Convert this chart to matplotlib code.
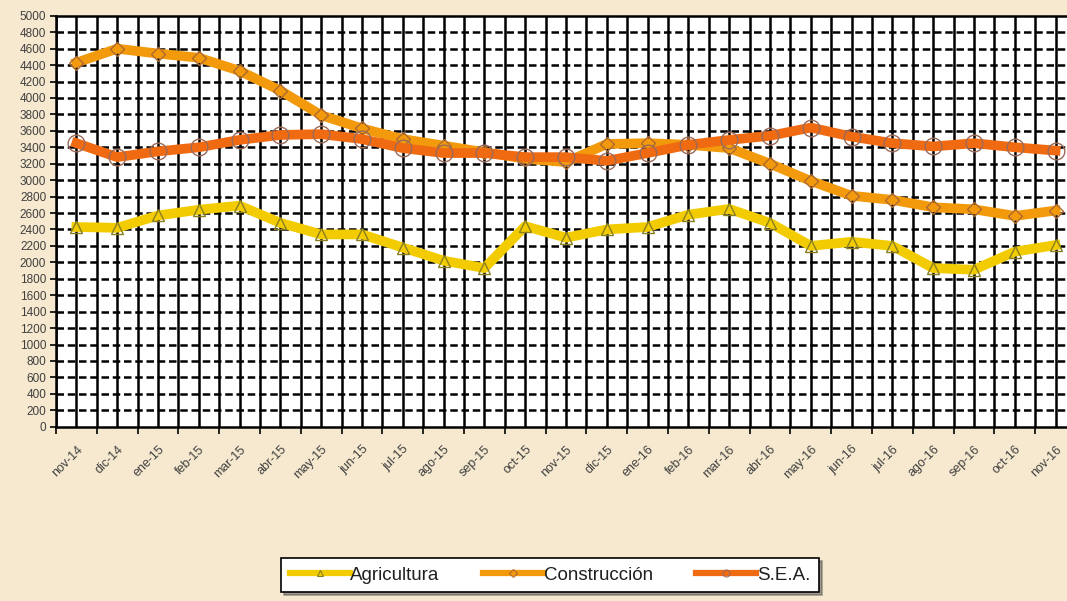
import numpy as np
import matplotlib.pyplot as plt
from matplotlib.lines import Line2D
from matplotlib.ticker import MultipleLocator

plt.rcParams['font.family'] = ['Liberation Sans', 'DejaVu Sans']

months = ['nov-14', 'dic-14', 'ene-15', 'feb-15', 'mar-15', 'abr-15', 'may-15',
          'jun-15', 'jul-15', 'ago-15', 'sep-15', 'oct-15', 'nov-15', 'dic-15',
          'ene-16', 'feb-16', 'mar-16', 'abr-16', 'may-16', 'jun-16', 'jul-16',
          'ago-16', 'sep-16', 'oct-16', 'nov-16']

agricultura = [2430, 2420, 2570, 2640, 2690, 2480, 2340, 2340, 2180, 2020, 1930,
               2440, 2300, 2400, 2430, 2580, 2650, 2480, 2200, 2250, 2200, 1930,
               1910, 2130, 2210]
construccion = [4430, 4600, 4540, 4490, 4330, 4090, 3790, 3630, 3500, 3420, 3340,
                3260, 3220, 3440, 3450, 3430, 3390, 3200, 2990, 2810, 2760, 2670,
                2645, 2565, 2630]
sea = [3450, 3280, 3350, 3400, 3490, 3550, 3560, 3500, 3390, 3330, 3330,
       3280, 3280, 3235, 3330, 3430, 3490, 3540, 3640, 3530, 3450, 3410,
       3450, 3400, 3360]

x = np.arange(len(months))

fig = plt.figure(figsize=(10.67, 6.01), dpi=100)
fig.patch.set_facecolor('#F6E9CF')
ax = fig.add_axes([56 / 1067, 1 - 426.7 / 601, 1020 / 1067, 410.9 / 601])
ax.set_facecolor('white')

ax.plot(x, agricultura, color='#F2CC00', lw=7, marker='^', ms=9,
        mfc='none', mec='#8A7F20', mew=1.0, zorder=3)
ax.plot(x, construccion, color='#F29A0C', lw=7, marker='D', ms=7,
        mfc='none', mec='#B06A30', mew=1.0, zorder=4)
ax.plot(x, sea, color='#F06A12', lw=7, marker='o', ms=12,
        mfc='none', mec='#9A6A5A', mew=1.0, zorder=5)

ax.set_xlim(-0.5, len(months) - 0.5)
ax.set_ylim(0, 5000)

ax.yaxis.set_major_locator(MultipleLocator(200))
ax.set_xticks(x)
ax.set_xticklabels(months, rotation=45, ha='right', rotation_mode='anchor',
                   fontsize=9, color='#404040')
ax.set_xticks(np.arange(-0.5, len(months), 1.0), minor=True)
ax.tick_params(axis='x', which='major', length=0, pad=12)
ax.tick_params(axis='x', which='minor', length=5, width=1.2, color='black', direction='out')
ax.tick_params(axis='y', labelsize=8.5, labelcolor='#404040', length=4, width=1.2,
               direction='out', pad=3)

# vertical grid: every half category, solid
for xv in np.arange(-0.5, len(months), 0.5):
    ax.axvline(xv, color='black', lw=1.8, zorder=1)
# horizontal grid: dashed every 200
for yv in np.arange(200, 5000, 200):
    ax.axhline(yv, color='black', lw=1.8, ls=(0, (3, 1.5)), zorder=1.5)

for s in ['left', 'bottom', 'top']:
    ax.spines[s].set_color('black')
    ax.spines[s].set_linewidth(1.8)
ax.spines['right'].set_visible(False)

handles = [
    Line2D([], [], color='#F2CC00', lw=4.5, marker='^', ms=5, mfc='none',
           mec='#8A7F20', mew=0.8),
    Line2D([], [], color='#F29A0C', lw=4.5, marker='D', ms=4, mfc='none',
           mec='#B06A30', mew=0.8),
    Line2D([], [], color='#F06A12', lw=4.5, marker='o', ms=5, mfc='none',
           mec='#9A6A5A', mew=0.8),
]
labels = ['Agricultura', 'Construcción', 'S.E.A.']
leg = fig.legend(handles, labels, loc='center', bbox_to_anchor=(550 / 1067, 1 - 575 / 601),
                 ncol=3, fontsize=13.5, frameon=True, fancybox=False, shadow=True,
                 edgecolor='black', handlelength=3.2, columnspacing=2.3,
                 handletextpad=0.05, borderpad=0.45, borderaxespad=0)
leg.get_frame().set_linewidth(1.2)
for t in leg.get_texts():
    t.set_color('#202020')

plt.savefig('out.png', dpi=100, facecolor=fig.get_facecolor())
